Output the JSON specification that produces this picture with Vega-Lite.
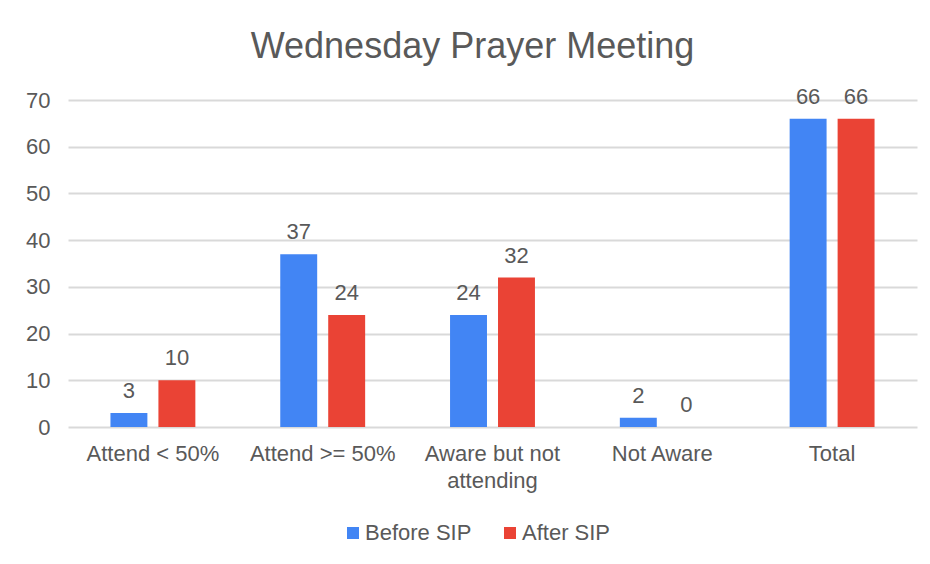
{
  "$schema": "https://vega.github.io/schema/vega-lite/v6.json",
  "width": 849,
  "height": 327,
  "autosize": {"type": "none"},
  "padding": {"left": 68, "top": 100, "right": 13, "bottom": 137},
  "background": "white",
  "title": {
    "text": "Wednesday Prayer Meeting",
    "fontSize": 36,
    "font": "Liberation Sans",
    "fontWeight": "normal",
    "color": "#595959",
    "anchor": "middle",
    "frame": "group",
    "dx": -20,
    "baseline": "alphabetic",
    "offset": -8
  },
  "data": {
    "values": [
      {"category": "Attend < 50%", "series": "Before SIP", "value": 3},
      {"category": "Attend < 50%", "series": "After SIP", "value": 10},
      {"category": "Attend >= 50%", "series": "Before SIP", "value": 37},
      {"category": "Attend >= 50%", "series": "After SIP", "value": 24},
      {"category": "Aware but not attending", "series": "Before SIP", "value": 24},
      {"category": "Aware but not attending", "series": "After SIP", "value": 32},
      {"category": "Not Aware", "series": "Before SIP", "value": 2},
      {"category": "Not Aware", "series": "After SIP", "value": 0},
      {"category": "Total", "series": "Before SIP", "value": 66},
      {"category": "Total", "series": "After SIP", "value": 66}
    ]
  },
  "encoding": {
    "x": {
      "field": "category",
      "type": "nominal",
      "sort": ["Attend < 50%", "Attend >= 50%", "Aware but not attending", "Not Aware", "Total"],
      "scale": {"paddingInner": 0.5, "paddingOuter": 0.25},
      "axis": {
        "title": null,
        "labelAngle": 0,
        "ticks": false,
        "domain": false,
        "labelPadding": 16,
        "labelFontSize": 22,
        "labelFont": "Liberation Sans",
        "labelColor": "#595959",
        "labelLineHeight": 27,
        "labelLimit": 0,
        "labelExpr": "datum.label == 'Aware but not attending' ? ['Aware but not', 'attending'] : datum.label"
      }
    },
    "xOffset": {
      "field": "series",
      "type": "nominal",
      "sort": ["Before SIP", "After SIP"],
      "scale": {"paddingInner": 0.23, "paddingOuter": 0}
    },
    "y": {
      "field": "value",
      "type": "quantitative",
      "scale": {"domain": [0, 70], "nice": false},
      "axis": {
        "title": null,
        "values": [0, 10, 20, 30, 40, 50, 60, 70],
        "ticks": false,
        "domain": false,
        "labelPadding": 18,
        "labelFontSize": 22,
        "labelFont": "Liberation Sans",
        "labelColor": "#595959",
        "gridColor": "#d9d9d9",
        "gridWidth": 2
      }
    }
  },
  "layer": [
    {
      "mark": {"type": "bar"},
      "encoding": {
        "color": {
          "field": "series",
          "type": "nominal",
          "sort": ["Before SIP", "After SIP"],
          "scale": {"domain": ["Before SIP", "After SIP"], "range": ["#4285F4", "#EA4335"]},
          "legend": {
            "title": null,
            "orient": "none",
            "direction": "horizontal",
            "legendX": 274,
            "legendY": 422,
            "padding": 0,
            "symbolType": "square",
            "symbolSize": 144,
            "symbolStrokeWidth": 0,
            "labelFontSize": 22,
            "labelFont": "Liberation Sans",
            "labelColor": "#595959",
            "labelOffset": 1,
            "columnPadding": 27
          }
        }
      }
    },
    {
      "mark": {
        "type": "text",
        "baseline": "alphabetic",
        "align": "center",
        "dy": -15,
        "fontSize": 22,
        "font": "Liberation Sans",
        "color": "#595959"
      },
      "encoding": {
        "text": {"field": "value", "type": "quantitative"}
      }
    }
  ],
  "config": {
    "view": {"stroke": null}
  }
}
